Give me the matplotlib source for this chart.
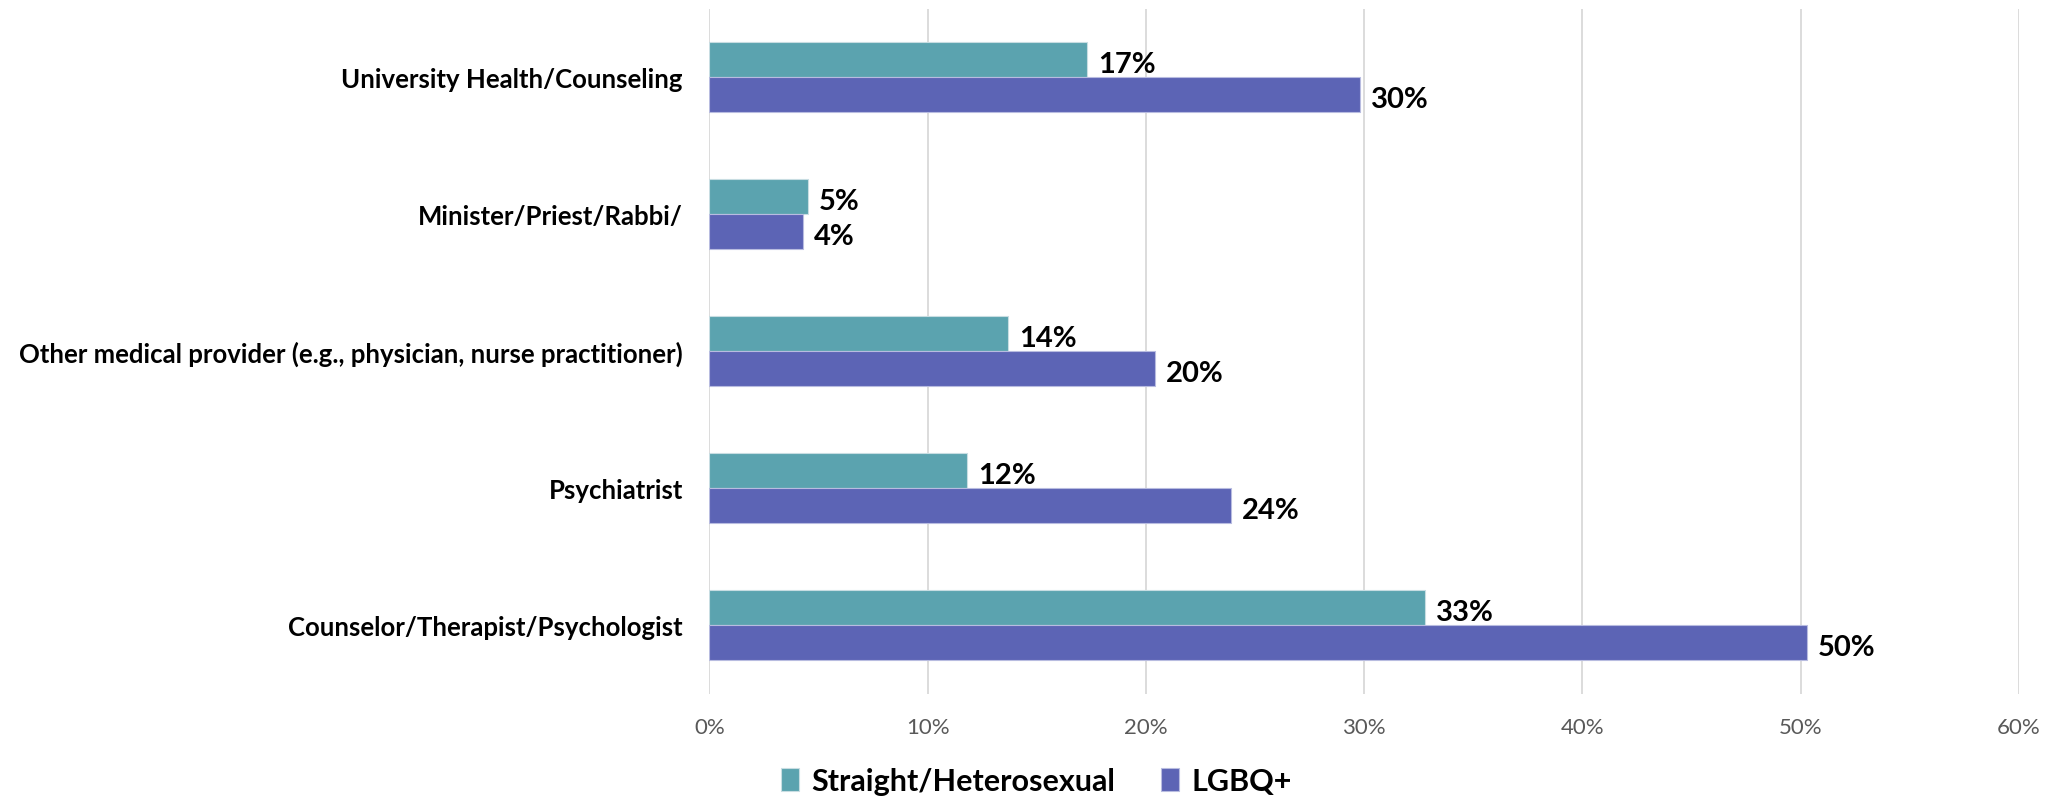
import matplotlib.pyplot as plt
import numpy as np

plt.rcParams['font.family'] = ['Lato', 'DejaVu Sans']

# data, bottom to top as drawn
categories = [
    'Counselor/Therapist/Psychologist',
    'Psychiatrist',
    'Other medical provider (e.g., physician, nurse practitioner)',
    'Minister/Priest/Rabbi/',
    'University Health/Counseling',
]
straight = [32.8, 11.8, 13.7, 4.5, 17.3]
lgbq = [50.3, 23.9, 20.4, 4.3, 29.8]
series_names = ['Straight/Heterosexual', 'LGBQ+']
ticks = [0, 10, 20, 30, 40, 50, 60]

teal = '#5BA3AF'
purple = '#5C64B5'

fig = plt.figure(figsize=(20.56, 8.03), dpi=100)
ax = fig.add_axes([0.345, 0.135, 0.637, 0.853])

y = np.arange(len(categories))
h = 0.258
b1 = ax.barh(y + h / 2, straight, height=h, color=teal, edgecolor='#c8dde2', linewidth=0.8,
             label=series_names[0], zorder=3)
b2 = ax.barh(y - h / 2, lgbq, height=h, color=purple, edgecolor='#b8bce0', linewidth=0.8,
             label=series_names[1], zorder=3)

# value labels (round half up like Excel)
for bars, vals in [(b1, straight), (b2, lgbq)]:
    for bar, v in zip(bars, vals):
        ax.text(v + 0.5, bar.get_y() + bar.get_height() / 2 - 0.03, f'{int(v + 0.5)}%',
                va='center', ha='left', fontsize=21, fontweight='bold', color='black')

ax.set_xlim(0, 60)
ax.set_ylim(-0.5, len(categories) - 0.5)
ax.set_xticks(ticks)
ax.set_xticklabels([f'{t}%' for t in ticks], fontsize=16, color='#595959')
ax.set_yticks(y)
ax.set_yticklabels(categories, fontsize=18.5, fontweight='bold', color='black')
ax.tick_params(axis='both', length=0)
ax.tick_params(axis='x', pad=17)
ax.tick_params(axis='y', pad=19)
ax.xaxis.grid(True, color='#d9d9d9', linewidth=1.3, zorder=0)
for s in ax.spines.values():
    s.set_visible(False)

fig.legend(handles=[b1, b2], labels=series_names, loc='center', bbox_to_anchor=(0.504, 0.026),
           ncol=2, frameon=False, handlelength=0.6, handleheight=0.8,
           handletextpad=0.4, columnspacing=1.5, prop={'weight': 'bold', 'size': 22})

fig.savefig('out.png', dpi=100)
